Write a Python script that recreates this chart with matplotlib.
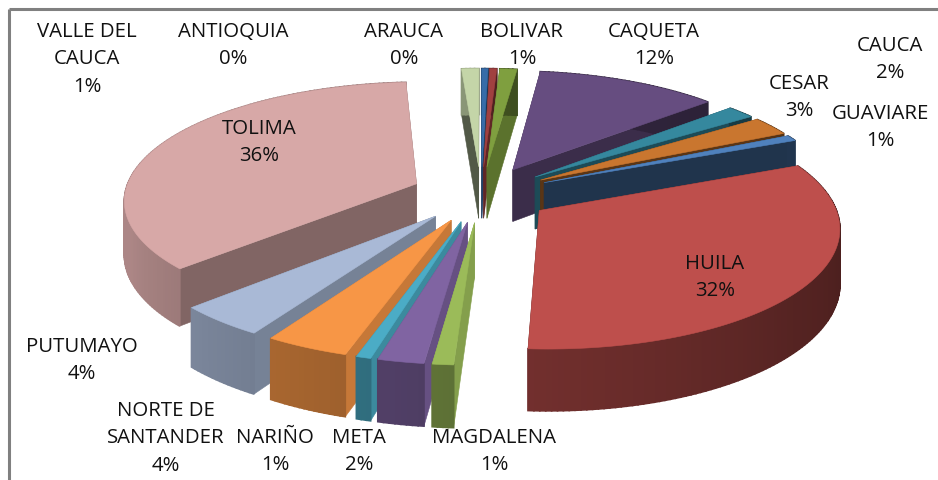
import numpy as np
import matplotlib
matplotlib.use("Agg")
import matplotlib.pyplot as plt
from matplotlib.patches import Polygon

departments = ["ANTIOQUIA", "ARAUCA", "BOLIVAR", "CAQUETA", "CAUCA", "CESAR", "GUAVIARE", "HUILA",
               "MAGDALENA", "META", "NARIÑO", "NORTE DE\nSANTANDER", "PUTUMAYO", "TOLIMA", "VALLE DEL\nCAUCA"]
values = [0.4, 0.45, 1.1, 11.6, 1.8, 2.6, 0.8, 32.4, 1, 2.2, 0.7, 4, 4.3, 36, 1.1]

colors = ["#376CA8", "#A04040", "#7F9F3F", "#664D80", "#35889E", "#C9762F", "#4F81BD", "#BE4F4C",
          "#9BBB59", "#8064A2", "#4BACC6", "#F79646", "#A9B9D6", "#D7A8A7", "#C4D5A8"]
cut_shade = [0.6, 0.6, 0.72, 0.58, 0.55, 0.45, 0.40, 0.4, 0.85, 0.8, 0.8, 0.8, 0.7, 0.6, 0.42]
label_xy = [(233, 32), (404, 32), (522, 32), (654, 32), (890, 46), (799, 84), (880, 114), (715, 264),
            (494, 438), (359, 438), (275, 438), (166, 411), (82, 347), (259, 129), (87, 32)]

CX, CY, A, TILT, PERSP, EXPLODE, DEPTH = 481, 195, 292, 0.40, 0.125, 0.24, 53


def project(X, Y, z):
    s = 1 / (1 + PERSP * Y)
    return CX + A * X * s, CY - A * TILT * Y * s + z * DEPTH * s


def shade(col, f):
    return tuple(c * f for c in matplotlib.colors.to_rgb(col))


def face(ax, pts, col, lw=0.4):
    ax.add_patch(Polygon(pts, closed=True, facecolor=col, edgecolor=col, linewidth=lw))


fig = plt.figure(figsize=(9.38, 4.81), dpi=100)
ax = fig.add_axes([0, 0, 1, 1])
ax.set_xlim(0, 938)
ax.set_ylim(481, 0)
ax.axis("off")

# frame
ax.plot([9, 9], [481, 10], color="#808080", lw=2.2, solid_capstyle="butt")
ax.plot([9, 938], [10, 10], color="#808080", lw=2.2, solid_capstyle="butt")

total = sum(values)
edges = np.concatenate([[0], np.cumsum(values)]) / total * 2 * np.pi
mids = (edges[:-1] + edges[1:]) / 2
order = np.argsort(-np.cos(mids))

for i in order:
    t0, t1, tm, col = edges[i], edges[i + 1], mids[i], colors[i]
    ox, oy = EXPLODE * np.sin(tm), EXPLODE * np.cos(tm)
    th = np.linspace(t0, t1, max(3, int(np.degrees(t1 - t0)) + 2))
    rx, ry = ox + np.sin(th), oy + np.cos(th)
    apex_t, apex_b = project(ox, oy, 0), project(ox, oy, 1)
    cut = shade(col, cut_shade[i])
    # cut faces
    for k in (0, -1):
        face(ax, [apex_t, project(rx[k], ry[k], 0), project(rx[k], ry[k], 1), apex_b], cut)
    # outer wall, shaded by direction
    for k in range(len(th) - 1):
        deg = np.degrees((th[k] + th[k + 1]) / 2)
        f = np.interp(deg, [0, 90, 130, 190, 225, 250, 300, 360],
                      [0.5, 0.38, 0.45, 0.62, 0.72, 0.8, 0.8, 0.7])
        face(ax, [project(rx[k], ry[k], 0), project(rx[k + 1], ry[k + 1], 0),
                  project(rx[k + 1], ry[k + 1], 1), project(rx[k], ry[k], 1)], shade(col, f), lw=1.2)
    # top
    top = [apex_t] + [project(a, b, 0) for a, b in zip(rx, ry)]
    face(ax, top, col)

LINE = 27.5
for name, v, (x, y) in zip(departments, values, label_xy):
    lines = name.split("\n") + [f"{round(v)}%"]
    for j, s in enumerate(lines):
        ax.text(x, y + j * LINE, s, ha="center", va="center", fontsize=14.7,
                family="Open Sans", color="#111111", zorder=10)

fig.savefig("out.png", dpi=100)
